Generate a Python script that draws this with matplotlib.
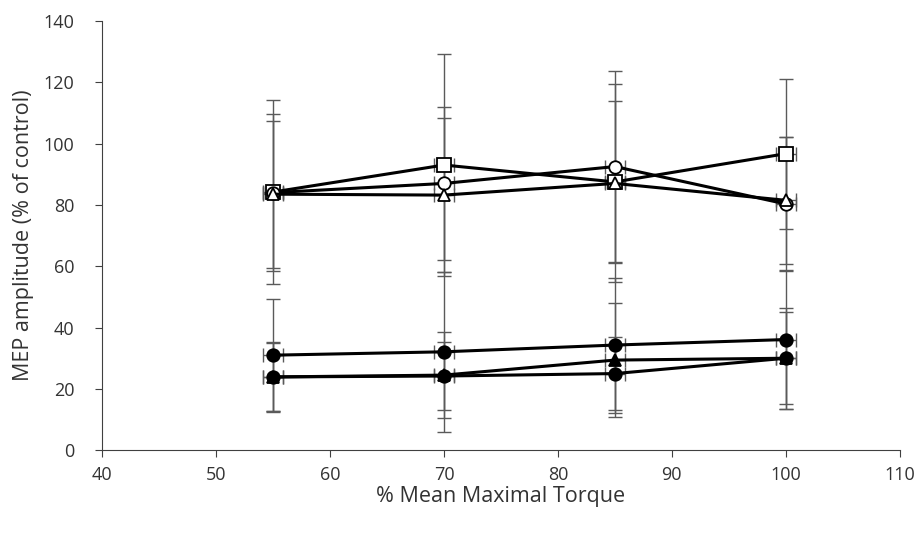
import numpy as np
import matplotlib.pyplot as plt

plt.rcParams['font.family'] = ['Open Sans', 'DejaVu Sans']

torque = [55, 70, 85, 100]

# open markers (upper group)
sq_open = [84.2, 93.0, 87.5, 96.7]
sq_open_sd = [30.0, 36.3, 26.4, 24.4]
ci_open = [84.0, 87.0, 92.5, 80.3]
ci_open_sd = [25.6, 25.0, 31.1, 22.0]
tr_open = [83.5, 83.2, 87.0, 81.5]
tr_open_sd = [24.0, 25.2, 32.3, 20.8]

# filled markers (lower group)
a_fill = [31.0, 32.1, 34.3, 36.1]
a_fill_sd = [18.2, 26.0, 22.0, 22.8]
b_fill = [23.9, 24.5, 29.4, 30.0]
b_fill_sd = [11.4, 14.0, 18.5, 16.5]
c_fill = [23.9, 24.2, 25.0, 30.0]
c_fill_sd = [11.0, 11.0, 12.0, 15.0]

torque_sd = [0.9, 0.9, 0.9, 0.9]

series = [
    (a_fill, a_fill_sd, 'o', 'black'),
    (b_fill, b_fill_sd, '^', 'black'),
    (c_fill, c_fill_sd, 'o', 'black'),
    (sq_open, sq_open_sd, 's', 'white'),
    (ci_open, ci_open_sd, 'o', 'white'),
    (tr_open, tr_open_sd, '^', 'white'),
]
sizes = {'o': 9, 's': 10, '^': 8}

fig = plt.figure(figsize=(9.2, 5.36), dpi=100)
ax = fig.add_axes([0.111, 0.160, 0.867, 0.801])

for y, sd, m, fc in series:
    ax.errorbar(torque, y, yerr=sd, xerr=torque_sd, fmt='none', ecolor='#5a5a5a',
                elinewidth=1.0, capsize=5, capthick=1.0, zorder=1)
for y, sd, m, fc in series:
    ax.plot(torque, y, color='black', lw=2.2, marker=m, ms=sizes[m],
            mfc=fc, mec='black', mew=1.3, zorder=3)

ax.set_xlim(40, 110)
ax.set_ylim(0, 140)
ax.set_xticks(np.arange(40, 111, 10))
ax.set_yticks(np.arange(0, 141, 20))
ax.spines['top'].set_visible(False)
ax.spines['right'].set_visible(False)
ax.spines['left'].set_color('#404040')
ax.spines['bottom'].set_color('#404040')
ax.tick_params(direction='out', length=5, color='#404040', labelsize=13,
               labelcolor='#333333')
ax.tick_params(axis='y', pad=15)
ax.tick_params(axis='x', pad=6)
ax.set_xlabel('% Mean Maximal Torque', fontsize=15.5, color='#333333')
ax.set_ylabel('MEP amplitude (% of control)', fontsize=15.5, color='#333333')
ax.xaxis.set_label_coords(0.5, -0.108)
ax.xaxis.label.set_va('center')
ax.yaxis.set_label_coords(-0.098, 0.5)
ax.yaxis.label.set_va('center')

plt.savefig('out.png', dpi=100)
